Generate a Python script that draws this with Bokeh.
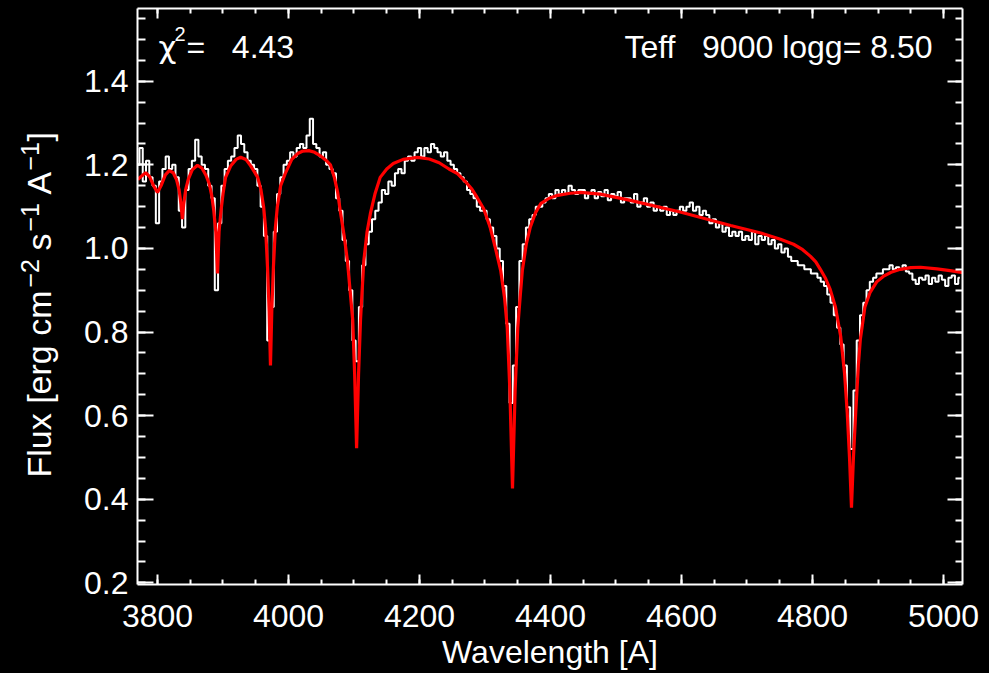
from bokeh.plotting import figure
from bokeh.layouts import row
from bokeh.models import Range1d, LinearAxis, FixedTicker, Label, CustomJSTickFormatter, PrintfTickFormatter
from bokeh.core.properties import value
from bokeh.embed import file_html
from bokeh.resources import INLINE
import numpy as np
import math

# ---------------- data ----------------
# observed spectrum (white), sampled every 5 A starting at 3770 A
obs_start = 3770.0
obs_step = 5.0
obs_flux = [
    1.20, 1.24, 1.16, 1.21, 1.17, 1.15, 1.06, 1.16, 1.19, 1.22,   # 3770
    1.19, 1.20, 1.17, 1.09, 1.05, 1.14, 1.19, 1.21, 1.26, 1.22,   # 3820
    1.20, 1.19, 1.15, 1.12, 0.90, 1.06, 1.15, 1.19, 1.21, 1.22,   # 3870
    1.24, 1.27, 1.25, 1.23, 1.21, 1.20, 1.19, 1.15, 1.10, 1.03,   # 3920
    0.78, 0.86, 1.04, 1.13, 1.17, 1.20, 1.21, 1.23, 1.22, 1.24,   # 3970
    1.25, 1.24, 1.27, 1.31, 1.25, 1.24, 1.22, 1.23, 1.20, 1.19,   # 4020
    1.18, 1.12, 1.09, 1.02, 0.97, 0.90, 0.78, 0.73, 0.86, 0.96,   # 4070
    1.01, 1.04, 1.07, 1.09, 1.11, 1.14, 1.13, 1.16, 1.15, 1.18,   # 4120
    1.19, 1.18, 1.21, 1.22, 1.21, 1.23, 1.24, 1.22, 1.24, 1.23,   # 4170
    1.25, 1.24, 1.23, 1.22, 1.23, 1.21, 1.20, 1.19, 1.18, 1.17,   # 4220
    1.16, 1.14, 1.13, 1.12, 1.10, 1.09, 1.09, 1.07, 1.05, 1.03,   # 4270
    1.00, 0.97, 0.91, 0.82, 0.63, 0.72, 0.86, 0.97, 1.01, 1.05,   # 4320
    1.07, 1.08, 1.10, 1.10, 1.11, 1.12, 1.13, 1.12, 1.14, 1.13,   # 4370
    1.14, 1.13, 1.15, 1.14, 1.13, 1.14, 1.14, 1.12, 1.13, 1.14,   # 4420
    1.12, 1.135, 1.125, 1.14, 1.115, 1.13, 1.125, 1.135, 1.11, 1.12,  # 4470
    1.12, 1.11, 1.13, 1.10, 1.11, 1.12, 1.10, 1.11, 1.09, 1.10,   # 4520
    1.09, 1.10, 1.08, 1.09, 1.08, 1.09, 1.10, 1.09, 1.10, 1.11,   # 4570
    1.09, 1.10, 1.08, 1.09, 1.08, 1.06, 1.07, 1.05, 1.06, 1.04,   # 4620
    1.05, 1.03, 1.04, 1.03, 1.04, 1.02, 1.03, 1.02, 1.04, 1.01,   # 4670
    1.03, 1.02, 1.03, 1.01, 1.02, 1.00, 1.01, 0.99, 1.00, 0.98,   # 4720
    0.97, 0.97, 0.96, 0.96, 0.95, 0.95, 0.94, 0.94, 0.93, 0.92,   # 4770
    0.91, 0.89, 0.87, 0.84, 0.81, 0.77, 0.72, 0.62, 0.52, 0.66,   # 4820
    0.78, 0.84, 0.87, 0.90, 0.92, 0.93, 0.94, 0.94, 0.95, 0.95,   # 4870
    0.96, 0.95, 0.955, 0.95, 0.96, 0.945, 0.94, 0.925, 0.915, 0.93,   # 4920
    0.925, 0.935, 0.915, 0.93, 0.92, 0.935, 0.925, 0.91, 0.93, 0.935,  # 4970
    0.915, 0.93,                                                  # 5020
]
obs_wave = obs_start + obs_step * np.arange(len(obs_flux))

# model spectrum (red)
model_wave = [
    3770, 3775, 3782, 3788, 3794, 3800, 3806, 3812, 3818, 3824,
    3829, 3833, 3836, 3838, 3840, 3843, 3847, 3853, 3861, 3868,
    3874, 3879, 3883, 3886, 3889, 3891.6, 3894, 3897, 3900, 3904,
    3912, 3920, 3927, 3935, 3942, 3948, 3953, 3958, 3962, 3965,
    3968, 3970.5, 3972.5, 3974.5, 3977, 3980, 3983, 3988, 3995, 4005,
    4014, 4022, 4031, 4040, 4050, 4058, 4064, 4070, 4075, 4079,
    4085, 4090, 4094, 4098, 4101, 4104, 4107, 4110, 4115, 4120,
    4125, 4132, 4140, 4150, 4160, 4175, 4197, 4215, 4230, 4245,
    4258, 4270, 4280, 4288, 4298, 4308, 4316, 4324, 4330, 4334,
    4338, 4342, 4346, 4350, 4354, 4357, 4363, 4369, 4377, 4385,
    4398, 4411, 4430, 4446, 4476, 4522, 4598, 4675, 4721, 4751,
    4771, 4785, 4797, 4805, 4812, 4820, 4827, 4835, 4843, 4849,
    4853, 4856.5, 4859.5, 4862.5, 4866, 4870, 4873, 4880, 4888, 4898,
    4908, 4920, 4934, 4950, 4965, 4990, 5010, 5030,
]
model_flux = [
    1.165, 1.172, 1.181, 1.172, 1.150, 1.134, 1.152, 1.176, 1.186, 1.181,
    1.165, 1.140, 1.105, 1.070, 1.105, 1.140, 1.165, 1.188, 1.199, 1.192,
    1.175, 1.155, 1.125, 1.090, 1.040, 0.940, 1.040, 1.090, 1.130, 1.170,
    1.198, 1.213, 1.218, 1.213, 1.198, 1.183, 1.170, 1.140, 1.100, 1.050,
    0.955, 0.850, 0.720, 0.850, 0.955, 1.050, 1.100, 1.150, 1.179, 1.213,
    1.227, 1.233, 1.234, 1.230, 1.220, 1.210, 1.200, 1.170, 1.135, 1.090,
    1.030, 0.970, 0.900, 0.830, 0.700, 0.522, 0.700, 0.830, 0.970, 1.040,
    1.083, 1.130, 1.170, 1.190, 1.203, 1.213, 1.218, 1.214, 1.205, 1.190,
    1.179, 1.160, 1.142, 1.122, 1.095, 1.050, 1.000, 0.947, 0.880, 0.810,
    0.660, 0.426, 0.660, 0.810, 0.890, 0.947, 1.010, 1.050, 1.085, 1.107,
    1.120, 1.127, 1.132, 1.134, 1.130, 1.115, 1.087, 1.055, 1.037, 1.022,
    1.010, 0.997, 0.981, 0.968, 0.950, 0.928, 0.902, 0.860, 0.790, 0.700,
    0.608, 0.500, 0.380, 0.500, 0.608, 0.720, 0.782, 0.860, 0.895, 0.920,
    0.933, 0.943, 0.950, 0.954, 0.955, 0.951, 0.947, 0.942,
]

x_major = [3800, 4000, 4200, 4400, 4600, 4800, 5000]
x_minor = list(range(3750, 5051, 50))
y_major = [0.2, 0.4, 0.6, 0.8, 1.0, 1.2, 1.4]
y_minor = [round(0.15 + 0.05 * i, 2) for i in range(30)]

NB = "\u00a0"
chi_symbol = "\u03c7"
chi_power = "2"
chi_value = "=" + NB * 3 + "4.43"
param_text = "Teff" + NB * 3 + "9000 logg= 8.50"
x_label = "Wavelength [A]"
# y-axis title pieces and whether each one is an exponent
y_label_parts = ["Flux [erg cm", "\u22122", "s", "\u22121", "A", "\u22121", "]"]
y_label_super = [False, True, False, True, False, True, False]

FONT = "Liberation Sans"
BG = {"background-color": "black"}

# ---------------- layout constants ----------------
W, H = 989, 673
TW = 70                                  # width of the strip holding the y title
X0, X1 = 3769.5, 5029.0
Y0, Y1 = 0.196, 1.574
FL, FR, FT, FB = 137, 962, 8, 584        # frame edges in page pixels

def sx(px):  # page x -> data x
    return X0 + (px - FL) * (X1 - X0) / (FR - FL)

def sy(py):  # page y -> data y (frames of both figures are aligned)
    return Y1 - (py - FT) * (Y1 - Y0) / (FB - FT)

# ---------------- title strip (left) ----------------
t = figure(width=TW, height=H, output_backend="svg", toolbar_location=None,
           x_range=Range1d(0, TW), y_range=Range1d(Y0, Y1),
           min_border_left=0, min_border_right=0, min_border_top=FT, min_border_bottom=H - FB,
           background_fill_color="black", border_fill_color="black",
           outline_line_color=None, x_axis_type=None, y_axis_type=None, styles=BG)
t.grid.visible = False
ylab_start_px = [477, 287, 250, 231, 194, 170, 141]
for txt, sup, py in zip(y_label_parts, y_label_super, ylab_start_px):
    if sup:
        bx, fs = 29.5, "25px"
    else:
        bx, fs = 38.5, "34px"
    t.text(x=[bx], y=[sy(py)], text=[txt], angle=math.pi / 2,
           text_color="white", text_font=value(FONT), text_font_size=fs,
           text_align="left", text_baseline="alphabetic")

# ---------------- main figure ----------------
p = figure(width=W - TW, height=H, output_backend="svg", toolbar_location=None,
           x_range=Range1d(X0, X1), y_range=Range1d(Y0, Y1),
           min_border_left=FL - TW, min_border_right=W - FR, min_border_top=FT,
           min_border_bottom=H - FB,
           background_fill_color="black", border_fill_color="black",
           outline_line_color=None, x_axis_type=None, y_axis_type=None, styles=BG)
p.grid.visible = False

def style(ax, tin, tmin, labels=True):
    ax.axis_line_color = "white"
    ax.axis_line_width = 2
    ax.major_tick_line_color = "white"
    ax.minor_tick_line_color = "white"
    ax.major_tick_line_width = 2
    ax.minor_tick_line_width = 2
    ax.major_tick_in = tin
    ax.major_tick_out = 0
    ax.minor_tick_in = tmin
    ax.minor_tick_out = 0
    ax.major_label_text_color = "white"
    ax.major_label_text_font = FONT
    ax.axis_label_text_color = "white"
    ax.axis_label_text_font = FONT
    ax.axis_label_text_font_style = "normal"
    if not labels:
        ax.formatter = CustomJSTickFormatter(code="return ''")
        ax.major_label_text_font_size = "1px"
        ax.major_label_standoff = 0

xt = FixedTicker(ticks=x_major, minor_ticks=x_minor)
yt = FixedTicker(ticks=y_major, minor_ticks=y_minor)

xb = LinearAxis(ticker=xt, formatter=PrintfTickFormatter(format="%d"), axis_label=x_label)
style(xb, 10, 5)
xb.major_label_text_font_size = "32px"
xb.axis_label_text_font_size = "32px"
xb.major_label_standoff = 20
xb.axis_label_standoff = 4
p.add_layout(xb, "below")

xa = LinearAxis(ticker=xt)
style(xa, 10, 5, labels=False)
p.add_layout(xa, "above")

yl = LinearAxis(ticker=yt, formatter=PrintfTickFormatter(format="%.1f"))
style(yl, 16, 8)
yl.major_label_text_font_size = "32px"
yl.major_label_standoff = 9
p.add_layout(yl, "left")

yr = LinearAxis(ticker=yt)
style(yr, 15, 7, labels=False)
p.add_layout(yr, "right")

p.step(obs_wave, obs_flux, mode="center", line_color="white", line_width=2)
p.line(model_wave, model_flux, line_color="#ff0000", line_width=3.2)

# annotations at top of the plot
p.add_layout(Label(x=sx(158), y=sy(46), text=chi_symbol, text_color="white",
                   text_font="DejaVu Sans", text_font_size="31px", text_baseline="alphabetic"))
p.add_layout(Label(x=sx(174), y=sy(33), text=chi_power, text_color="white",
                   text_font=FONT, text_font_size="20px", text_baseline="alphabetic"))
p.add_layout(Label(x=sx(186), y=sy(46), text=chi_value, text_color="white",
                   text_font=FONT, text_font_size="32px", text_baseline="alphabetic"))
p.add_layout(Label(x=sx(932), y=sy(46), text=param_text, text_color="white",
                   text_font=FONT, text_font_size="32px", text_align="right",
                   text_baseline="alphabetic"))

layout = row(t, p, spacing=0, styles=BG)
open("out.html", "w").write(file_html(layout, INLINE))
